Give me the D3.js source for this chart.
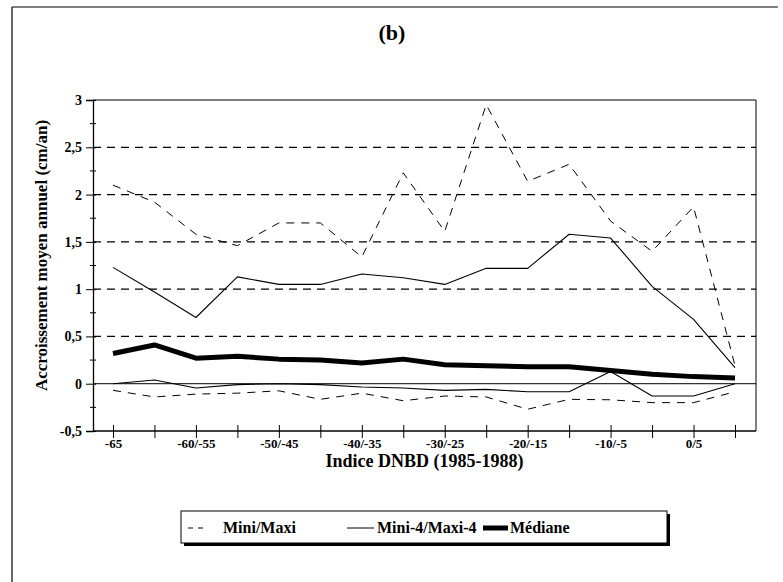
<!DOCTYPE html>
<html>
<head>
<meta charset="utf-8">
<script src="https://cdn.jsdelivr.net/npm/d3@7"></script>
<style>
  body { margin: 0; background: #fff; }
  svg text { font-family: 'Liberation Serif', 'DejaVu Serif', serif; font-weight: bold; fill: #000; }
</style>
</head>
<body>
<div id="chart"></div>
<script>
var categories = ['-65', '-65/-60', '-60/-55', '-55/-50', '-50/-45', '-45/-40', '-40/-35', '-35/-30',
  '-30/-25', '-25/-20', '-20/-15', '-15/-10', '-10/-5', '-5/0', '0/5', '5'];

var maxi = [2.10, 1.92, 1.58, 1.46, 1.70, 1.70, 1.34, 2.23, 1.61, 2.95, 2.14, 2.32, 1.72, 1.40, 1.87, 0.19];
var mini = [-0.07, -0.14, -0.11, -0.10, -0.075, -0.165, -0.10, -0.18, -0.13, -0.14, -0.27, -0.165, -0.17, -0.20, -0.20, -0.085];
var maxi4 = [1.23, 0.97, 0.70, 1.13, 1.05, 1.05, 1.16, 1.12, 1.05, 1.22, 1.22, 1.58, 1.54, 1.03, 0.68, 0.17];
var mini4 = [0.0, 0.04, -0.045, -0.01, 0.0, -0.01, -0.035, -0.045, -0.07, -0.06, -0.085, -0.085, 0.13, -0.13, -0.13, 0.0];
var mediane = [0.32, 0.41, 0.27, 0.29, 0.26, 0.25, 0.22, 0.26, 0.20, 0.19, 0.18, 0.18, 0.14, 0.10, 0.075, 0.06];

var yTicks = [-0.5, 0, 0.5, 1, 1.5, 2, 2.5, 3];
var yTickLabels = ['-0,5', '0', '0,5', '1', '1,5', '2', '2,5', '3'];
var legendNames = ['Mini/Maxi', 'Mini-4/Maxi-4', 'Médiane'];

var W = 783, H = 582;
var serif = "'Liberation Serif', 'DejaVu Serif', serif";
var margin = { top: 100, left: 93 },
  width = 663,
  height = 331;

var svg = d3.select('#chart').append('svg')
  .attr('width', W)
  .attr('height', H);

// outer frame (top + left only visible)
svg.append('line').attr('x1', 12).attr('y1', 7).attr('x2', 778).attr('y2', 7)
  .attr('stroke', '#000').attr('stroke-width', 1.2);
svg.append('line').attr('x1', 12).attr('y1', 7).attr('x2', 12).attr('y2', H)
  .attr('stroke', '#000').attr('stroke-width', 1.2);

svg.append('text')
  .attr('x', 392).attr('y', 40)
  .attr('text-anchor', 'middle')
  .attr('font-family', serif)
  .style('font-size', '22px')
  .text('(b)');

var g = svg.append('g')
  .attr('transform', 'translate(' + margin.left + ',' + margin.top + ')');

var x = d3.scalePoint()
  .domain(categories)
  .range([20, 642]);

var y = d3.scaleLinear()
  .domain([-0.5, 3])
  .range([height, 0]);

// gridlines
g.selectAll('.grid')
  .data(yTicks.filter(function (d) { return d > 0 && d < 3; }))
  .enter().append('line')
  .attr('class', 'grid')
  .attr('x1', 0).attr('x2', width)
  .attr('y1', function (d) { return y(d); })
  .attr('y2', function (d) { return y(d); })
  .attr('stroke', '#000')
  .attr('stroke-width', 1.2)
  .attr('stroke-dasharray', '8,6');

g.append('line')
  .attr('x1', 0).attr('x2', width)
  .attr('y1', y(0)).attr('y2', y(0))
  .attr('stroke', '#000').attr('stroke-width', 1);

// plot frame top and right
g.append('line').attr('x1', 0).attr('x2', width).attr('y1', 0).attr('y2', 0)
  .attr('stroke', '#000').attr('stroke-width', 1.2);
g.append('line').attr('x1', width).attr('x2', width).attr('y1', 0).attr('y2', height)
  .attr('stroke', '#000').attr('stroke-width', 1);

// y axis
var yAxis = d3.axisLeft(y)
  .tickValues(yTicks)
  .tickSize(7)
  .tickFormat(function (d, i) { return yTickLabels[i]; });

var yg = g.append('g').call(yAxis).attr('font-family', serif);
yg.select('.domain').attr('stroke-width', 1.3);
yg.selectAll('.tick line').attr('x2', -7).attr('x1', 3);
yg.selectAll('.tick text')
  .attr('x', -11)
  .style('font-size', '14px');

// minor y ticks
g.selectAll('.minor')
  .data(d3.range(-0.25, 3, 0.5))
  .enter().append('line')
  .attr('x1', -3).attr('x2', 3)
  .attr('y1', function (d) { return y(d); })
  .attr('y2', function (d) { return y(d); })
  .attr('stroke', '#000');

// x axis
var xAxis = d3.axisBottom(x)
  .tickSize(6)
  .tickSizeOuter(0)
  .tickFormat(function (d, i) { return i % 2 === 0 ? d : ''; });

var xg = g.append('g')
  .attr('transform', 'translate(0,' + height + ')')
  .call(xAxis)
  .attr('font-family', serif);
xg.select('.domain').attr('d', 'M0,0H' + width).attr('stroke-width', 1.5);
xg.selectAll('.tick line').attr('y1', -6).attr('y2', 7);
xg.selectAll('.tick text')
  .attr('y', 8)
  .style('font-size', '13px');

g.append('text')
  .attr('x', width / 2).attr('y', height + 36)
  .attr('text-anchor', 'middle')
  .style('font-size', '18px')
  .text('Indice DNBD (1985-1988)');

svg.append('text')
  .attr('transform', 'translate(47,' + (margin.top + height / 2 - 10) + ') rotate(-90)')
  .attr('text-anchor', 'middle')
  .style('font-size', '17px')
  .text('Accroissement moyen annuel (cm/an)');

// series
var line = d3.line()
  .x(function (d, i) { return x(categories[i]); })
  .y(function (d) { return y(d); });

var series = [
  { values: maxi, width: 1, dash: '8,7' },
  { values: mini, width: 1, dash: '8,7' },
  { values: maxi4, width: 1.1, dash: null },
  { values: mini4, width: 1.1, dash: null },
  { values: mediane, width: 5, dash: null }
];

g.selectAll('.series')
  .data(series)
  .enter().append('path')
  .attr('class', 'series')
  .attr('d', function (d) { return line(d.values); })
  .attr('fill', 'none')
  .attr('stroke', '#000')
  .attr('stroke-width', function (d) { return d.width; })
  .attr('stroke-dasharray', function (d) { return d.dash; })
  .attr('stroke-linejoin', 'round');

// legend
var lg = svg.append('g').attr('transform', 'translate(181,511)');
lg.append('rect').attr('x', 3).attr('y', 3).attr('width', 486).attr('height', 32).attr('fill', '#000');
lg.append('rect').attr('x', 0).attr('y', 0).attr('width', 486).attr('height', 32)
  .attr('fill', '#fff').attr('stroke', '#000').attr('stroke-width', 1);

var legendItems = [
  { sx: 7, ex: 22, tx: 42, width: 1.2, dash: '5,5' },
  { sx: 166, ex: 193, tx: 196, width: 1, dash: null },
  { sx: 302, ex: 327, tx: 329, width: 5, dash: null }
];

legendItems.forEach(function (it, i) {
  lg.append('line')
    .attr('x1', it.sx).attr('x2', it.ex)
    .attr('y1', 17).attr('y2', 17)
    .attr('stroke', '#000')
    .attr('stroke-width', it.width)
    .attr('stroke-dasharray', it.dash);
  lg.append('text')
    .attr('x', it.tx).attr('y', 22)
    .attr('font-family', serif)
    .style('font-size', '16px')
    .text(legendNames[i]);
});
</script>
</body>
</html>
